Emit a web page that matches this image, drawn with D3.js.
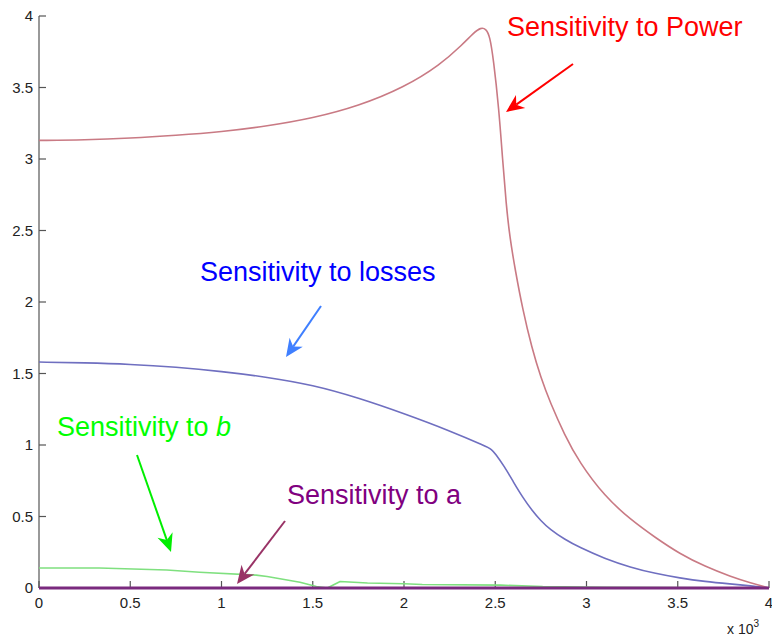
<!DOCTYPE html>
<html><head><meta charset="utf-8">
<script src="https://cdn.jsdelivr.net/npm/d3@7"></script>
<style>body{margin:0;background:#fff;}svg{display:block;font-family:"Liberation Sans",Arial,sans-serif;}</style>
</head><body>
<svg id="c" width="772" height="636"></svg>
<script>
const xTicks = [0, 0.5, 1, 1.5, 2, 2.5, 3, 3.5, 4];
const yTicks = [0, 0.5, 1, 1.5, 2, 2.5, 3, 3.5, 4];
const xTickLabels = ["0", "0.5", "1", "1.5", "2", "2.5", "3", "3.5", "4"];
const yTickLabels = ["0", "0.5", "1", "1.5", "2", "2.5", "3", "3.5", "4"];

const powerX = [0, 0.25, 0.5, 0.75, 1.0, 1.25, 1.5, 1.75, 2.0, 2.2, 2.32, 2.38, 2.42, 2.45, 2.47, 2.49, 2.52, 2.54, 2.56, 2.58, 2.61, 2.65, 2.70, 2.75, 2.80, 2.88, 2.96, 3.1, 3.24, 3.38, 3.51, 3.65, 3.79, 3.9, 4.0];
const powerY = [3.13, 3.133, 3.145, 3.165, 3.19, 3.23, 3.285, 3.37, 3.5, 3.66, 3.8, 3.88, 3.92, 3.91, 3.86, 3.7, 3.35, 3.0, 2.68, 2.45, 2.22, 1.95, 1.68, 1.47, 1.30, 1.07, 0.88, 0.64, 0.48, 0.35, 0.24, 0.15, 0.08, 0.035, 0];

const lossesX = [0, 0.25, 0.5, 0.75, 1.0, 1.25, 1.5, 1.75, 2.0, 2.25, 2.45, 2.48, 2.5, 2.55, 2.6, 2.65, 2.7, 2.75, 2.8, 2.88, 2.96, 3.1, 3.24, 3.38, 3.51, 3.65, 3.79, 3.9, 4.0];
const lossesY = [1.58, 1.575, 1.565, 1.545, 1.515, 1.475, 1.42, 1.33, 1.22, 1.10, 0.99, 0.97, 0.94, 0.85, 0.74, 0.635, 0.545, 0.47, 0.41, 0.34, 0.285, 0.205, 0.145, 0.10, 0.07, 0.045, 0.028, 0.015, 0];

const bX = [0, 0.33, 0.7, 0.88, 1.19, 1.25, 1.43, 1.52, 1.58, 1.65, 1.8, 2.0, 2.1, 2.53, 2.76, 3.1, 4.0];
const bY = [0.14, 0.14, 0.126, 0.11, 0.09, 0.08, 0.04, 0.01, 0.0, 0.045, 0.035, 0.03, 0.025, 0.02, 0.01, 0.005, 0];

const aX = [0, 4];
const aY = [0, 0];

const svg = d3.select("#c");
const x = d3.scaleLinear().domain([0, 4]).range([39, 769]);
const y = d3.scaleLinear().domain([0, 4]).range([588, 16]);

const axisColor = "#555";
svg.append("line").attr("x1", x(0)).attr("x2", x(0)).attr("y1", y(0)).attr("y2", y(4)).attr("stroke", axisColor).attr("stroke-width", 1.2);
svg.append("line").attr("x1", x(0)).attr("x2", x(4)).attr("y1", y(0)).attr("y2", y(0)).attr("stroke", axisColor).attr("stroke-width", 1.2);

yTicks.forEach((t, i) => {
  svg.append("line").attr("x1", x(0)).attr("x2", x(0) + 7).attr("y1", y(t)).attr("y2", y(t)).attr("stroke", axisColor).attr("stroke-width", 1.2);
  svg.append("text").attr("x", 33).attr("y", y(t) + 5).attr("text-anchor", "end").attr("font-size", 15).attr("fill", "#222").text(yTickLabels[i]);
});
xTicks.forEach((t, i) => {
  svg.append("line").attr("x1", x(t)).attr("x2", x(t)).attr("y1", y(0)).attr("y2", y(0) - 7).attr("stroke", axisColor).attr("stroke-width", 1.2);
  svg.append("text").attr("x", x(t)).attr("y", 608).attr("text-anchor", "middle").attr("font-size", 15).attr("fill", "#222").text(xTickLabels[i]);
});
const ex = svg.append("text").attr("x", 727).attr("y", 634).attr("font-size", 14).attr("fill", "#222");
ex.append("tspan").text("x 10");
ex.append("tspan").attr("dy", -7).attr("font-size", 10).text("3");

const line = d3.line().x(d => x(d[0])).y(d => y(d[1])).curve(d3.curveBasis);
function draw(xs, ys, color, w, curve) {
  const pts = xs.map((v, i) => [v, ys[i]]);
  const l = curve ? line : d3.line().x(d => x(d[0])).y(d => y(d[1]));
  svg.append("path").attr("d", l(pts)).attr("fill", "none").attr("stroke", color).attr("stroke-width", w).attr("stroke-linejoin", "round");
}
draw(bX, bY, "#7fe07f", 1.6, false);
draw(lossesX, lossesY, "#6f6fc0", 1.6, true);
draw(powerX, powerY, "#c97a84", 1.6, true);
draw(aX, aY, "#7a2a7e", 3, false);

function arrow(x1, y1, x2, y2, color) {
  const ang = Math.atan2(y2 - y1, x2 - x1);
  const L = 18, Wd = 8;
  const bx = x2 - L * Math.cos(ang), by = y2 - L * Math.sin(ang);
  const mx = x2 - L * 0.7 * Math.cos(ang), my = y2 - L * 0.7 * Math.sin(ang);
  svg.append("line").attr("x1", x1).attr("y1", y1).attr("x2", mx).attr("y2", my).attr("stroke", color).attr("stroke-width", 2);
  const p1 = [bx + Wd * Math.sin(ang), by - Wd * Math.cos(ang)];
  const p2 = [bx - Wd * Math.sin(ang), by + Wd * Math.cos(ang)];
  svg.append("path").attr("d", `M${x2},${y2}L${p1[0]},${p1[1]}L${mx},${my}L${p2[0]},${p2[1]}Z`).attr("fill", color);
}
function label(tx, ty, color, parts) {
  const t = svg.append("text").attr("x", tx).attr("y", ty).attr("font-size", 27).attr("fill", color);
  parts.forEach(p => { const s = t.append("tspan").text(p.t); if (p.i) s.attr("font-style", "italic"); });
}
label(507, 36, "#ff0000", [{t: "Sensitivity to Power"}]);
arrow(573, 64, 506, 112, "#ff0000");
label(200, 281, "#0000ff", [{t: "Sensitivity to losses"}]);
arrow(321, 306, 286, 357, "#3f7fff");
label(57, 436, "#00ff00", [{t: "Sensitivity to "}, {t: "b", i: true}]);
arrow(137, 455, 171, 552, "#00ee00");
label(287, 504, "#800080", [{t: "Sensitivity to a"}]);
arrow(285, 521, 237, 584, "#993366");
</script>
</body></html>
